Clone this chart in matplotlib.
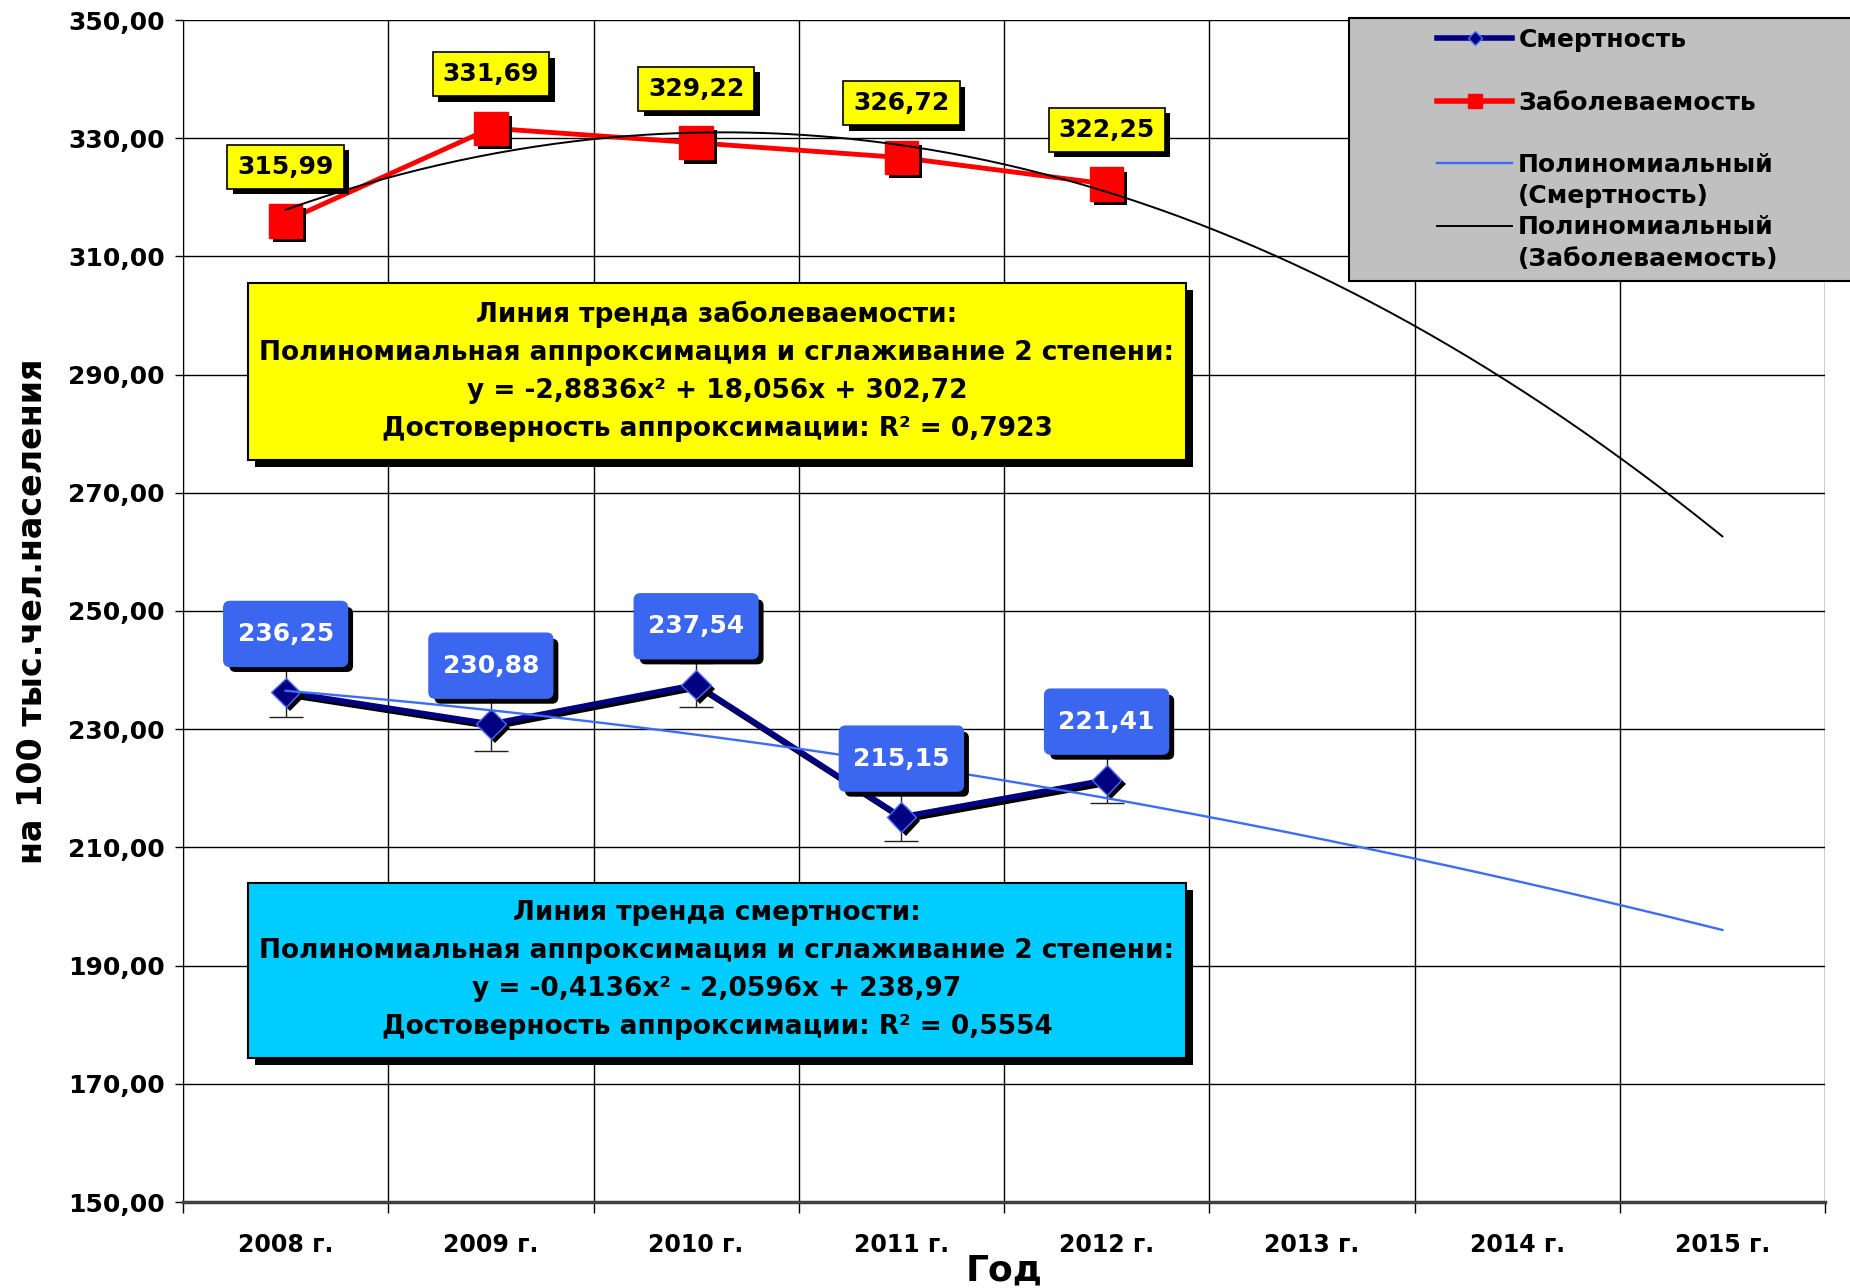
import numpy as np
import matplotlib.pyplot as plt
import matplotlib.patheffects as pe
from matplotlib.lines import Line2D
from matplotlib.patches import Rectangle, BoxStyle

plt.rcParams['font.family'] = ['DejaVu Sans']
plt.rcParams['font.weight'] = 'bold'

# данные
years = ['2008 г.', '2009 г.', '2010 г.', '2011 г.', '2012 г.',
         '2013 г.', '2014 г.', '2015 г.']
series_names = ['Смертность', 'Заболеваемость']
mortality = [236.25, 230.88, 237.54, 215.15, 221.41]
morbidity = [315.99, 331.69, 329.22, 326.72, 322.25]
mortality_err = [4.2, 4.5, 3.7, 4.0, 3.9]
y_ticks = [150, 170, 190, 210, 230, 250, 270, 290, 310, 330, 350]

morbidity_note = ['Линия тренда заболеваемости:',
                  'Полиномиальная аппроксимация и сглаживание 2 степени:',
                  'y = -2,8836x² + 18,056x + 302,72',
                  'Достоверность аппроксимации: R² = 0,7923']
mortality_note = ['Линия тренда смертности:',
                  'Полиномиальная аппроксимация и сглаживание 2 степени:',
                  'y = -0,4136x² - 2,0596x + 238,97',
                  'Достоверность аппроксимации: R² = 0,5554']

NAVY = '#000080'
RED = '#ff0000'
TREND_BLUE = '#3d6cf5'
LABEL_BLUE = '#3a66f0'


def fmt(v):
    return f'{v:.2f}'.replace('.', ',')


def box_shadow(off):
    return [pe.SimplePatchShadow(offset=(off, -off), shadow_rgbFace='k', alpha=1),
            pe.Normal()]


def rounded_box(padx, pady, rounding):
    # скруглённая рамка с разными отступами по горизонтали и вертикали
    base = BoxStyle.Round(pad=0, rounding_size=rounding)

    def style(x0, y0, width, height, mutation_size):
        px = padx * mutation_size
        py = pady * mutation_size
        return base(x0 - px, y0 - py, width + 2 * px, height + 2 * py, mutation_size)
    return style


fig = plt.figure(figsize=(18.5, 12.88), dpi=100)
ax = fig.add_axes([183 / 1850, 1 - 1202 / 1288, 1642 / 1850, 1182 / 1288])

x = np.arange(len(years))
xs = x[:len(mortality)]

# полиномиальные линии тренда (как в Excel, x = 1, 2, 3 ...)
x_fit = xs + 1
c_mort = np.polyfit(x_fit, mortality, 2)
c_morb = np.polyfit(x_fit, morbidity, 2)
xx = np.linspace(1, len(years), 300)
ax.plot(xx - 1, np.polyval(c_mort, xx), color=TREND_BLUE, lw=1.7, zorder=6)
ax.plot(xx - 1, np.polyval(c_morb, xx), color='black', lw=1.4, zorder=6)

# ряды
ax.errorbar(xs, mortality, yerr=mortality_err, fmt='none', ecolor='#202020',
            elinewidth=1, capsize=12, capthick=1, zorder=3)
ax.plot(xs, mortality, color=NAVY, lw=4, zorder=4,
        path_effects=[pe.SimpleLineShadow(offset=(2, -2), shadow_color='k', alpha=1),
                      pe.Normal()])
ax.plot(xs, mortality, ls='none', marker='D', ms=15, mfc=NAVY, mec='#4a6cff',
        mew=1, zorder=5, path_effects=box_shadow(3))
ax.plot(xs, morbidity, color=RED, lw=3.5, zorder=4)
ax.plot(xs, morbidity, ls='none', marker='s', ms=24, mfc=RED, mec=RED,
        zorder=5, path_effects=box_shadow(3))

# подписи значений
for xi, v in zip(xs, morbidity):
    t = ax.annotate(fmt(v), (xi, v), xytext=(0, 39), textcoords='offset points',
                    ha='center', va='center', fontsize=18, color='black',
                    bbox=dict(boxstyle='square,pad=0.4', fc='#ffff00', ec='black', lw=1.2),
                    zorder=10)
    t.get_bbox_patch().set_path_effects(box_shadow(4))

for xi, v in zip(xs, mortality):
    t = ax.annotate(fmt(v), (xi, v), xytext=(0, 42), textcoords='offset points',
                    ha='center', va='center', fontsize=18, color='white',
                    bbox=dict(boxstyle=rounded_box(0.55, 0.82, 0.25),
                              fc=LABEL_BLUE, ec=LABEL_BLUE, lw=1),
                    zorder=10)
    t.get_bbox_patch().set_path_effects(box_shadow(4))

# блоки с уравнениями трендов
box_x0 = (248 - 183) / 1642
box_w = (1186 - 248) / 1642
for top_px, bottom_px, color, lines in [(283, 460, '#ffff00', morbidity_note),
                                        (883, 1058, '#00ccff', mortality_note)]:
    y0 = 1 - (bottom_px - 20) / 1182
    h = (bottom_px - top_px) / 1182
    ax.add_patch(Rectangle((box_x0, y0), box_w, h, transform=ax.transAxes,
                           fc=color, ec='black', lw=1.5, zorder=8,
                           path_effects=box_shadow(5)))
    ax.text(box_x0 + box_w / 2, y0 + h / 2, '\n'.join(lines), transform=ax.transAxes,
            ha='center', va='center', fontsize=19, linespacing=1.6, zorder=9)

# оси
ax.set_xlim(-0.5, len(years) - 0.5)
ax.set_ylim(y_ticks[0], y_ticks[-1])
ax.set_yticks(y_ticks, labels=[fmt(v) for v in y_ticks])
ax.set_xticks(np.arange(-0.5, len(years)), labels=[])
ax.set_xticks(x, labels=years, minor=True)
ax.tick_params(axis='x', which='major', length=8, width=1, color='black')
ax.tick_params(axis='x', which='minor', length=0, pad=22, labelsize=17)
ax.tick_params(axis='y', length=6, width=1, pad=7, labelsize=18)
ax.grid(True, which='major', color='black', lw=1)
ax.set_axisbelow(True)
for s in ['top', 'right']:
    ax.spines[s].set_visible(False)
ax.spines['left'].set_color('black')
ax.spines['bottom'].set_color('#404040')
ax.spines['bottom'].set_linewidth(2.5)

ax.set_ylabel('на 100 тыс.чел.населения', fontsize=24, fontweight='bold')
ax.yaxis.set_label_coords((33 - 183) / 1642, 0.5)
ax.yaxis.label.set_va('center')
ax.set_xlabel('Год', fontsize=26, fontweight='bold')
ax.xaxis.set_label_coords(0.5, (1202 - 1270) / 1182)
ax.xaxis.label.set_va('center')

# легенда на сером фоне
fig.patches.append(Rectangle((1349 / 1850, 1 - 281 / 1288), 0.28, 263 / 1288,
                             transform=fig.transFigure, fc='#c0c0c0', ec='black',
                             lw=1.5, zorder=20))
blank = Line2D([], [], color='none')
handles = [Line2D([], [], color=NAVY, lw=4, marker='D', ms=7, mfc=NAVY, mec='#4a6cff'),
           blank,
           Line2D([], [], color=RED, lw=4, marker='s', ms=10),
           blank,
           Line2D([], [], color=TREND_BLUE, lw=1.7),
           blank,
           Line2D([], [], color='black', lw=1.4),
           blank]
labels = [series_names[0], ' ', series_names[1], ' ',
          'Полиномиальный', '(' + series_names[0] + ')',
          'Полиномиальный', '(' + series_names[1] + ')']
leg = fig.legend(handles, labels, loc='upper left',
                 bbox_to_anchor=(1437 / 1850, 1 - 28 / 1288), frameon=False,
                 fontsize=18, handlelength=3.0, handletextpad=0.25,
                 labelspacing=0.29, borderpad=0, borderaxespad=0)
leg.set_zorder(21)

fig.savefig('out.png', dpi=100)
